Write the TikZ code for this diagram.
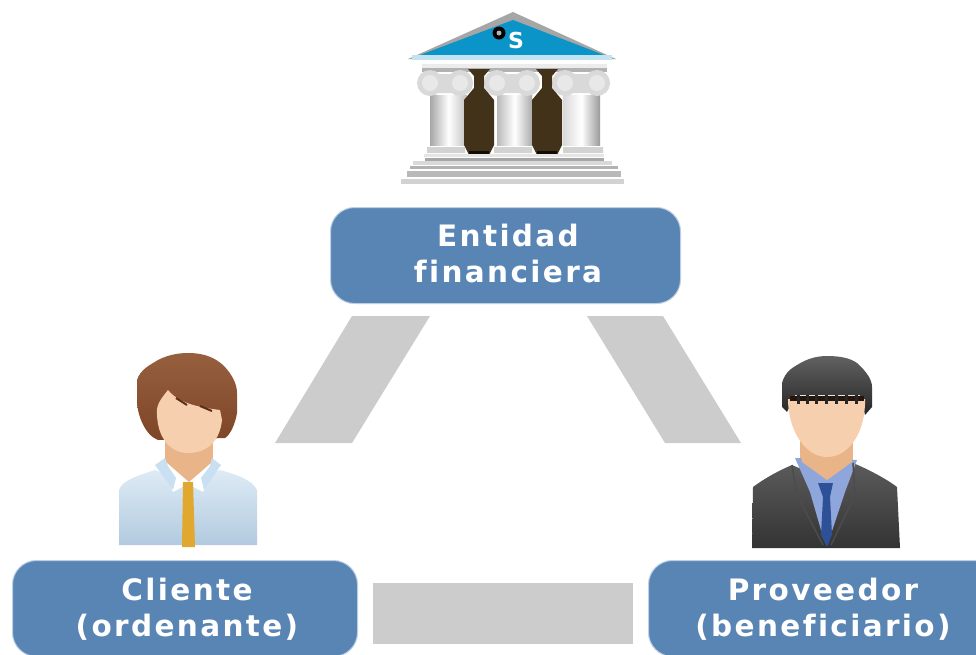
\documentclass[tikz,border=0pt]{standalone}
\usepackage{fontspec}
\setmainfont{DejaVu Sans}[BoldFont={DejaVu Sans Bold}]
\newfontfamily\labelfont{DejaVu Sans Bold}[LetterSpace=8,Ligatures=NoCommon]
\usetikzlibrary{shadings}
\definecolor{boxblue}{HTML}{5985B5}
\definecolor{boxedge}{HTML}{BCCFE4}
\definecolor{band}{HTML}{CCCCCC}
\definecolor{roofblue}{HTML}{0B94C8}
\definecolor{vase}{HTML}{42321A}
\definecolor{skin}{HTML}{F6CFAE}
\definecolor{neckc}{HTML}{E9B588}
\definecolor{hairb}{HTML}{7E4526}
\definecolor{hairtop}{HTML}{96603F}
\definecolor{hairk}{HTML}{3A3A3A}
\definecolor{suit}{HTML}{3E3E3E}
\definecolor{shirtb}{HTML}{8FA6DC}
\definecolor{tieb}{HTML}{2E5096}
\definecolor{tiey}{HTML}{E0A82E}
\definecolor{shirttop}{HTML}{DDEBF5}
\definecolor{shirtbot}{HTML}{B2CADF}
\definecolor{collarc}{HTML}{C9E0F2}
\tikzset{
  roundbox/.style={draw=boxedge,line width=1pt,fill=boxblue,rounded corners=24pt,inner sep=0pt,anchor=north west},
  boxtext/.style={text=white,font=\labelfont\fontsize{29.5}{36}\selectfont,align=center,inner sep=0pt},
  bandshape/.style={fill=band,draw=none},
  stepline/.style={fill=#1,draw=none},
  capital/.style={fill=#1,draw=none}
}
\begin{document}
\begin{tikzpicture}[x=1pt,y=-1pt]
\useasboundingbox (0,0) rectangle (976,654);
\clip (0,0) rectangle (976,654);
\fill[white] (0,0) rectangle (976,654);
% gray bands
\fill[bandshape] (352,316) -- (430,316) -- (352,443) -- (275,443) -- cycle;
\fill[bandshape] (587,316) -- (663,316) -- (741,443) -- (665,443) -- cycle;
\fill[bandshape] (373,583) rectangle (633,644);
% boxes
\node[roundbox,minimum width=350pt,minimum height=96pt] (bankbox) at (330,207) {};
\node[roundbox,minimum width=345pt,minimum height=96pt] (clientbox) at (12,560) {};
\node[roundbox,minimum width=350pt,minimum height=96pt] (suppbox) at (648,560) {};
\node[boxtext] (banktext) at (508,253.5) {Entidad\\financiera};
\node[boxtext] (clienttext) at (187,609.5) {Cliente\\(ordenante)};
\node[boxtext] (supptext) at (823,609.5) {Proveedor\\(beneficiario)};
% ---- bank ----
\fill[gray!70] (513,12) -- (616,59) -- (408,59) -- cycle;
\fill[roofblue] (513,20) -- (604,55) -- (420,55) -- cycle;
\fill[white!75!roofblue] (412,55) rectangle (612,60);
\fill[black] (499,33) circle (6.5);
\fill[gray!60] (499,33) circle (2.5);
\node[text=white,font=\bfseries\fontsize{22}{22}\selectfont,inner sep=0pt] (banklogo) at (516,40) {S};
\fill[gray!15] (422,64) rectangle (607,68);
\fill[gray!60] (422,68) rectangle (607,72);
\shade[left color=gray!70,right color=gray!50,middle color=white] (430,95) rectangle (467,145);
\shade[left color=gray!55,right color=gray!65,middle color=white] (497,95) rectangle (532,145);
\shade[left color=gray!30,right color=gray!80,middle color=white] (563,95) rectangle (600,145);
\fill[capital=gray!30] (430,74) rectangle (460,93) (497,74) rectangle (527,93) (565,74) rectangle (597,93);
\foreach \cx in {430,460,497,527,565,597}
  {\fill[capital=gray!30] (\cx,83) circle (13);
   \fill[capital=gray!18] (\cx,83) circle (8);}
\foreach \cx in {479,547}
  {\fill[vase] (\cx-11,69) -- (\cx+11,69) -- (\cx+5,76) -- (\cx+5,88) -- (\cx+15,100)
     -- (\cx+15,145) -- (\cx+10,155) -- (\cx-10,155) -- (\cx-15,145) -- (\cx-15,100)
     -- (\cx-5,88) -- (\cx-5,76) -- cycle;
   \fill[black!75!vase] (\cx-10,151) rectangle (\cx+10,155);}
\fill[stepline=gray!35] (427,147) rectangle (465,153) (494,147) rectangle (532,153) (563,147) rectangle (603,153);
\fill[stepline=gray!20] (424,154) rectangle (604,157);
\fill[stepline=gray!70] (425,158) rectangle (604,161);
\fill[stepline=gray!30] (413,161) rectangle (612,165);
\fill[stepline=gray!60] (410,166) rectangle (618,169);
\fill[stepline=gray!55] (407,171) rectangle (621,177);
\fill[stepline=gray!35] (401,179) rectangle (624,184);
% ---- client ----
\shade[top color=hairtop,bottom color=hairb]
  (158,440) .. controls (145,435) and (137,415) .. (137,400)
  -- (137,380) .. controls (140,370) and (150,365) .. (153,363)
  .. controls (165,355) and (178,353) .. (188,353)
  .. controls (205,353) and (215,358) .. (223,365)
  .. controls (233,375) and (237,385) .. (237,393)
  -- (237,413) .. controls (235,425) and (230,435) .. (225,438) -- cycle;
\fill[neckc] (165,440) rectangle (213,475);
\shade[top color=shirttop,bottom color=shirtbot]
  (119,545) -- (119,490) .. controls (122,480) and (140,475) .. (155,470)
  -- (188,482) -- (220,470) .. controls (238,475) and (252,480) .. (257,490)
  -- (257,545) -- cycle;
\fill[white] (160,462) -- (217,462) -- (203,492) -- (188,484) -- (173,492) -- cycle;
\fill[neckc] (165,452) -- (213,452) -- (212,462) -- (189,482) -- (166,462) -- cycle;
\fill[collarc] (155,465) -- (165,458) -- (168,466) -- (176,478) -- (173,490) -- cycle;
\fill[collarc] (221,465) -- (212,458) -- (210,466) -- (201,478) -- (204,490) -- cycle;
\fill[tiey] (183,482) -- (193,482) -- (195,547) -- (182,547) -- cycle;
\fill[skin] (168,390) .. controls (160,400) and (156,405) .. (157,415)
  .. controls (158,440) and (172,453) .. (188,453)
  .. controls (208,453) and (220,440) .. (222,420)
  -- (220,410) .. controls (205,408) and (180,405) .. (168,390) -- cycle;
\draw[hairb!70!black,line width=2pt] (176,398) -- (187,405) (200,406) -- (212,411);
% ---- supplier ----
\shade[top color=hairk!80!white,bottom color=black!85]
  (787,412) -- (782,407) -- (782,383) .. controls (785,372) and (792,368) .. (797,365)
  .. controls (808,358) and (818,356) .. (827,356)
  .. controls (840,356) and (850,358) .. (857,363)
  .. controls (867,372) and (872,380) .. (872,387)
  -- (872,407) -- (865,415) -- (860,395) -- (795,395) -- cycle;
\fill[neckc] (800,440) rectangle (853,470);
\shade[top color=suit!85!white,bottom color=black!80]
  (752,548) -- (753,487) .. controls (765,478) and (780,470) .. (792,465)
  -- (827,480) -- (853,463) .. controls (870,470) and (888,480) .. (897,487)
  -- (900,548) -- cycle;
\fill[shirtb] (795,458) -- (857,460) -- (845,492) -- (830,537) -- (823,537) -- (810,492) -- cycle;
\fill[neckc] (800,450) -- (853,450) -- (852,462) -- (827,480) -- (802,462) -- cycle;
\fill[tieb] (818,483) -- (833,483) -- (830,497) -- (832,535) -- (827,547) -- (821,535) -- (823,497) -- cycle;
\draw[black!70,line width=1.5pt] (792,465) -- (797,495) -- (823,545);
\draw[black!70,line width=1.5pt] (853,463) -- (855,495) -- (831,545);
\fill[skin] (788,399) .. controls (788,430) and (805,457) .. (827,457)
  .. controls (850,457) and (866,430) .. (865,399) -- cycle;
\fill[black!70!hairb] (790,396) rectangle (864,401);
\foreach \tx in {797,806,815,825,835,845,855}
  \fill[black!85] (\tx,395) rectangle (\tx+3,404);
\end{tikzpicture}
\end{document}
